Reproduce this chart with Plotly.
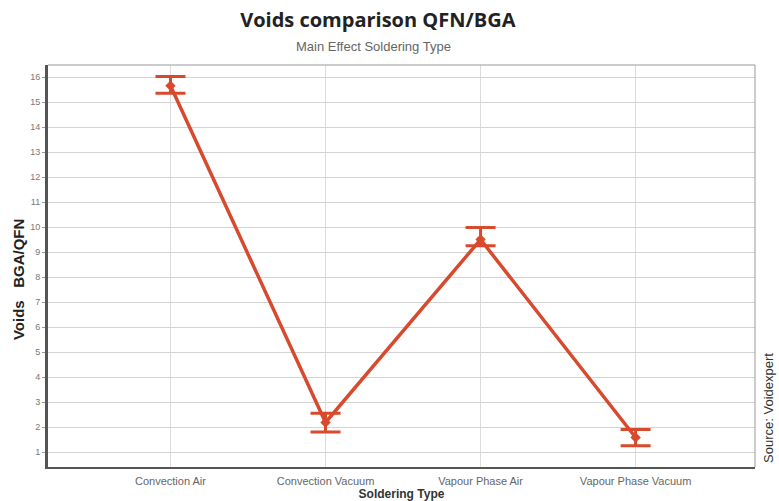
import plotly.graph_objects as go

categories = ["Convection Air", "Convection Vacuum", "Vapour Phase Air", "Vapour Phase Vacuum"]
means = [15.65, 2.18, 9.5, 1.58]
upper = [16.02, 2.55, 9.98, 1.9]
lower = [15.35, 1.8, 9.25, 1.25]
y_ticks = list(range(1, 17))

err_plus = [u - m for u, m in zip(upper, means)]
err_minus = [m - l for m, l in zip(means, lower)]

red = "#d84a2e"
fig = go.Figure()
fig.add_trace(go.Scatter(
    x=list(range(len(categories))), y=means, mode="lines+markers",
    line=dict(color=red, width=3.5),
    marker=dict(symbol="diamond", size=8, color=red),
    error_y=dict(type="data", symmetric=False, array=err_plus, arrayminus=err_minus,
                 color=red, thickness=3, width=15),
    showlegend=False,
))

fig.update_layout(
    width=779, height=501,
    margin=dict(l=48, r=24, t=65, b=34, autoexpand=False),
    paper_bgcolor="white", plot_bgcolor="white",
    font=dict(family="Liberation Sans, Arial, sans-serif", color="#444"),
    title=dict(text="<b>Voids comparison QFN/BGA</b>", x=0.485, xanchor="center",
               y=0.96, yanchor="middle", font=dict(size=20, color="#222", family="Open Sans, sans-serif")),
    xaxis=dict(range=[-0.79, 3.77], tickmode="array", tickvals=list(range(len(categories))),
               ticktext=categories, tickfont=dict(size=11, color="#666"),
               showgrid=True, gridcolor="#dcdcdc", gridwidth=1, zeroline=False,
               showline=True, linecolor="#555", linewidth=2, mirror=False,
               ticks="outside", ticklen=3, tickcolor="rgba(0,0,0,0)",
               title=dict(text="<b>Soldering Type</b>", font=dict(size=12, color="#333"), standoff=2)),
    yaxis=dict(range=[0.4, 16.48], tickmode="array", tickvals=y_ticks,
               tickfont=dict(size=9, color="#777"), ticks="outside", ticklen=3, tickcolor="#999",
               showgrid=True, gridcolor="#d4d4d4", gridwidth=1, zeroline=False,
               showline=True, linecolor="#555", linewidth=3),
    shapes=[
        dict(type="line", xref="paper", yref="paper", x0=0, x1=1, y0=1, y1=1,
             line=dict(color="#999", width=1)),
        dict(type="line", xref="paper", yref="paper", x0=1, x1=1, y0=0, y1=1,
             line=dict(color="#999", width=1)),
    ],
    annotations=[
        dict(text="Main Effect Soldering Type", xref="paper", yref="paper", x=0.461, y=1.0,
             yshift=28, showarrow=False, font=dict(size=13, color="#666")),
        dict(text="<b>Voids   BGA/QFN</b>", xref="paper", yref="paper", x=0.0, y=0.465,
             xanchor="center", yanchor="middle", xshift=-30, textangle=-90,
             showarrow=False, font=dict(size=15, color="#222")),
        dict(text="Source: Voidexpert", xref="paper", yref="paper", x=1.0, y=0.147,
             xanchor="center", yanchor="middle", xshift=14, textangle=-90,
             showarrow=False, font=dict(size=13, color="#333")),
    ],
)

fig.write_html(
    "out.html",
    config={"displayModeBar": False},
    post_script="document.body.style.margin='0';document.body.style.overflow='hidden';",
)
